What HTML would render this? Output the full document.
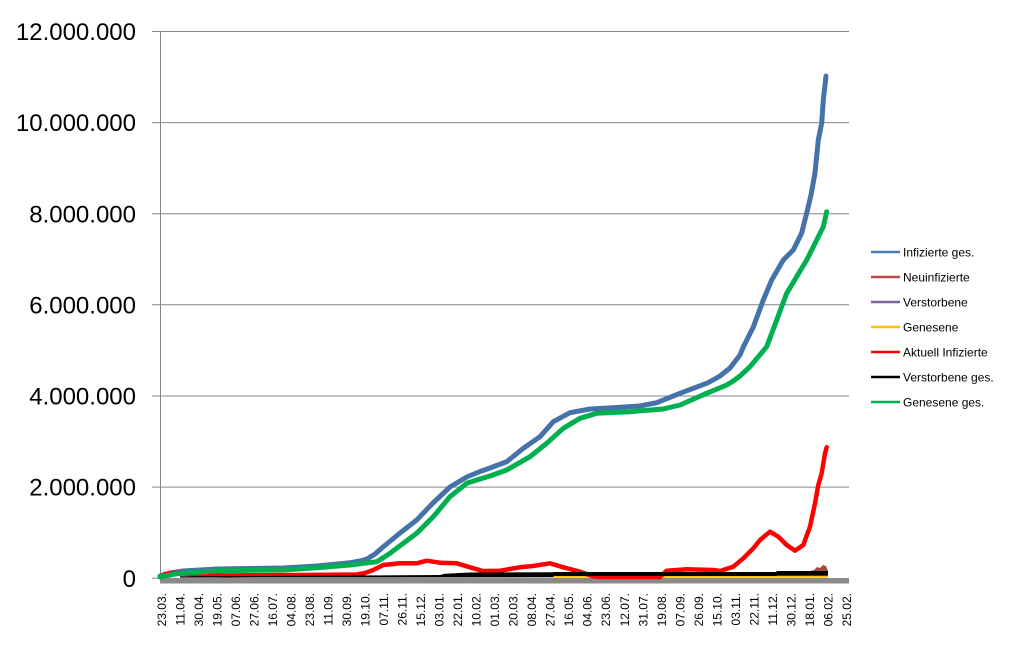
<!DOCTYPE html>
<html><head><meta charset="utf-8"><style>
html,body{margin:0;padding:0;background:#fff;}
svg{display:block;font-family:"Liberation Sans",Arial,sans-serif;}
</style></head><body>
<svg width="1014" height="654" viewBox="0 0 1014 654" xmlns="http://www.w3.org/2000/svg">
<rect width="1014" height="654" fill="#fff"/>
<g stroke="#868686" stroke-width="1" fill="none">
<line x1="152" y1="31.5" x2="849" y2="31.5"/>
<line x1="152" y1="122.6" x2="849" y2="122.6"/>
<line x1="152" y1="213.7" x2="849" y2="213.7"/>
<line x1="152" y1="304.8" x2="849" y2="304.8"/>
<line x1="152" y1="396" x2="849" y2="396"/>
<line x1="152" y1="487.1" x2="849" y2="487.1"/>
<line x1="152" y1="578.2" x2="160" y2="578.2"/>
<line x1="160.5" y1="31.5" x2="160.5" y2="578.5"/>
</g>
<g font-size="24" text-anchor="end" fill="#000">
<text x="136" y="40.1">12.000.000</text>
<text x="136" y="131.2">10.000.000</text>
<text x="136" y="222.3">8.000.000</text>
<text x="136" y="313.4">6.000.000</text>
<text x="136" y="404.6">4.000.000</text>
<text x="136" y="495.7">2.000.000</text>
<text x="136" y="586.8">0</text>
</g>
<rect x="160" y="578" width="689" height="5.5" fill="#8a8a8a"/>
<!-- Infizierte ges. -->
<polyline fill="none" stroke="#4672aa" stroke-width="5" stroke-linejoin="round" stroke-linecap="round" points="160,576 170,573 183,571 200,570 217,569 250,568.5 283,568 317,566 350,562.7 360,561 367,559 375,554 383,547 400,533 416.7,520 433,503 450,487 466.7,477 480,471.5 490,468 506.7,461.7 523.3,448.3 540,436.7 553.3,421.7 570,412.7 590,409 613,407.7 640,406 656.7,402.7 680,393.3 706.7,383.3 713,380 720,376 730,368 740,355 743.3,347 753.3,327 763.3,300 771.7,280 783.3,260 793.3,250 801.7,233 806.7,213 811,195 815,173 818.3,140 821.7,123 823.3,100 826,76"/>
<!-- Genesene (yellow) -->
<line x1="553" y1="576.8" x2="828" y2="576.8" stroke="#ffc000" stroke-width="2"/>
<!-- Aktuell Infizierte -->
<polyline fill="none" stroke="#ff0000" stroke-width="4.5" stroke-linejoin="round" stroke-linecap="round" points="160,577 165,574 175,573 190,574 210,575 225,575.5 300,575 356.7,574.5 365,573 373.3,570 383.3,565 400,563.3 416.7,563.3 426.7,560.7 440,562.7 456.7,563.3 473.3,568.3 483,571 500,570.7 520,567.3 533,566 550,563.3 563.3,567.3 580,571.7 592,576 600,577 660,577 666.7,570.7 686.7,569.3 713.3,570 720,571 733.3,566.7 743.3,558.3 753.3,548.3 760,540 770,531.7 778.3,536.7 786.7,545 795,550.7 803.3,545 810,526.7 815,503.3 818.3,485 821.7,473.3 825,453.3 826.7,447.3"/>
<!-- Neuinfizierte spikes -->
<polygon fill="#a24a42" points="806,573 810,571 814,570 817,567 820,568 823,565 826,566 828,571 828,574 806,574"/>
<!-- Verstorbene ges. -->
<polygon fill="#000" points="180,576.3 350,575.5 440,575 445,573.8 470,572.5 553,572.3 554,572 776,572 777,571 828,571 828,575.8 777,575.8 776,576 554,576 553,577.3 180,577.6"/>
<!-- Genesene ges. -->
<polyline fill="none" stroke="#00b050" stroke-width="5" stroke-linejoin="round" stroke-linecap="round" points="160,577 175,574 190,572.7 217,570.7 283,570 317,567.7 350,565 377,561.7 390,553.3 416.7,533.3 433.3,516.7 450,496.7 466.7,483.3 480,479 490,476 506.7,470 530,456.7 546.7,443.3 563.3,428.3 580,418.3 596.7,413.3 630,411.7 663.3,409 680,405 706.7,393.3 726.7,385 733.3,381 740,376 750,366.7 766.7,346.7 776.7,320 786.7,293.3 796.7,276.7 806.7,260 816.7,240 823.3,226.7 826.7,211.7"/>
<!-- X labels -->
<g font-size="12" text-anchor="end" fill="#000">
<text transform="translate(166,593) rotate(-90)">23.03.</text>
<text transform="translate(184.5,593) rotate(-90)">11.04.</text>
<text transform="translate(203,593) rotate(-90)">30.04.</text>
<text transform="translate(221.5,593) rotate(-90)">19.05.</text>
<text transform="translate(240,593) rotate(-90)">07.06.</text>
<text transform="translate(258.6,593) rotate(-90)">27.06.</text>
<text transform="translate(277.1,593) rotate(-90)">16.07.</text>
<text transform="translate(295.6,593) rotate(-90)">04.08.</text>
<text transform="translate(314.1,593) rotate(-90)">23.08.</text>
<text transform="translate(332.6,593) rotate(-90)">11.09.</text>
<text transform="translate(351.1,593) rotate(-90)">30.09.</text>
<text transform="translate(369.6,593) rotate(-90)">19.10.</text>
<text transform="translate(388.1,593) rotate(-90)">07.11.</text>
<text transform="translate(406.6,593) rotate(-90)">26.11.</text>
<text transform="translate(425.1,593) rotate(-90)">15.12.</text>
<text transform="translate(443.7,593) rotate(-90)">03.01.</text>
<text transform="translate(462.2,593) rotate(-90)">22.01.</text>
<text transform="translate(480.7,593) rotate(-90)">10.02.</text>
<text transform="translate(499.2,593) rotate(-90)">01.03.</text>
<text transform="translate(517.7,593) rotate(-90)">20.03.</text>
<text transform="translate(536.2,593) rotate(-90)">08.04.</text>
<text transform="translate(554.7,593) rotate(-90)">27.04.</text>
<text transform="translate(573.2,593) rotate(-90)">16.05.</text>
<text transform="translate(591.7,593) rotate(-90)">04.06.</text>
<text transform="translate(610.2,593) rotate(-90)">23.06.</text>
<text transform="translate(628.8,593) rotate(-90)">12.07.</text>
<text transform="translate(647.3,593) rotate(-90)">31.07.</text>
<text transform="translate(665.8,593) rotate(-90)">19.08.</text>
<text transform="translate(684.3,593) rotate(-90)">07.09.</text>
<text transform="translate(702.8,593) rotate(-90)">26.09.</text>
<text transform="translate(721.3,593) rotate(-90)">15.10.</text>
<text transform="translate(739.8,593) rotate(-90)">03.11.</text>
<text transform="translate(758.3,593) rotate(-90)">22.11.</text>
<text transform="translate(776.8,593) rotate(-90)">11.12.</text>
<text transform="translate(795.3,593) rotate(-90)">30.12.</text>
<text transform="translate(813.9,593) rotate(-90)">18.01.</text>
<text transform="translate(832.4,593) rotate(-90)">06.02.</text>
<text transform="translate(850.9,593) rotate(-90)">25.02.</text>
</g>
<!-- Legend -->
<g stroke-width="2.6">
<line x1="871" y1="252" x2="900" y2="252" stroke="#4a7ebb"/>
<line x1="871" y1="277" x2="900" y2="277" stroke="#be4b48"/>
<line x1="871" y1="302" x2="900" y2="302" stroke="#7d60a0"/>
<line x1="871" y1="327" x2="900" y2="327" stroke="#ffc000"/>
<line x1="871" y1="352" x2="900" y2="352" stroke="#ff0000"/>
<line x1="871" y1="377" x2="900" y2="377" stroke="#000000"/>
<line x1="871" y1="402" x2="900" y2="402" stroke="#00b050"/>
</g>
<g font-size="12" fill="#000">
<text x="903" y="256.3">Infizierte ges.</text>
<text x="903" y="281.3">Neuinfizierte</text>
<text x="903" y="306.3">Verstorbene</text>
<text x="903" y="331.3">Genesene</text>
<text x="903" y="356.3">Aktuell Infizierte</text>
<text x="903" y="381.3">Verstorbene ges.</text>
<text x="903" y="406.3">Genesene ges.</text>
</g>
</svg>
</body></html>
